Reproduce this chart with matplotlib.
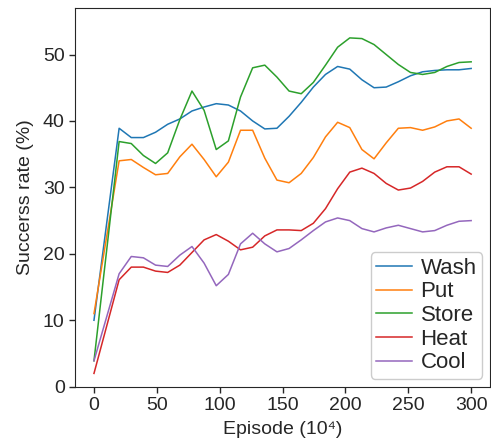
import matplotlib
matplotlib.use("Agg")
import matplotlib.pyplot as plt
import numpy as np

plt.rcParams['font.family'] = ['Liberation Sans', 'DejaVu Sans']

episode = np.concatenate([[0], np.linspace(20, 300, 30)])

wash = [10.0, 38.9, 37.5, 37.5, 38.3, 39.5, 40.3, 41.5, 42.1, 42.6, 42.4, 41.5, 40.0, 38.8, 38.9, 40.7,
        42.8, 45.1, 47.0, 48.2, 47.8, 46.2, 45.0, 45.1, 45.9, 46.8, 47.4, 47.6, 47.7, 47.7, 47.9]
put = [11.0, 34.0, 34.2, 33.0, 31.9, 32.1, 34.6, 36.5, 34.2, 31.6, 33.8, 38.6, 38.6, 34.4, 31.1, 30.7,
       32.1, 34.5, 37.6, 39.8, 39.0, 35.7, 34.3, 36.7, 38.9, 39.0, 38.6, 39.1, 40.0, 40.3, 38.9]
store = [3.9, 36.9, 36.6, 34.8, 33.6, 35.2, 40.2, 44.5, 41.6, 35.7, 37.0, 43.6, 48.0, 48.4, 46.6, 44.5,
         44.1, 45.8, 48.4, 51.1, 52.5, 52.4, 51.5, 50.0, 48.5, 47.3, 47.0, 47.3, 48.2, 48.8, 48.9]
heat = [2.0, 16.1, 18.0, 18.0, 17.4, 17.2, 18.3, 20.2, 22.1, 22.9, 21.9, 20.6, 21.0, 22.7, 23.6, 23.6,
        23.5, 24.6, 26.8, 29.8, 32.3, 32.9, 32.1, 30.6, 29.6, 29.9, 30.9, 32.3, 33.1, 33.1, 32.0]
cool = [3.9, 17.0, 19.6, 19.4, 18.3, 18.1, 19.8, 21.1, 18.6, 15.2, 16.9, 21.5, 23.1, 21.5, 20.3, 20.8,
        22.1, 23.5, 24.8, 25.4, 25.0, 23.8, 23.3, 23.9, 24.3, 23.8, 23.3, 23.5, 24.3, 24.9, 25.0]

series = [("Wash", wash, "#1f77b4"), ("Put", put, "#ff7f0e"), ("Store", store, "#2ca02c"),
          ("Heat", heat, "#d62728"), ("Cool", cool, "#9467bd")]

fig, ax = plt.subplots(figsize=(4.91, 4.45), dpi=100)
fig.subplots_adjust(left=0.153, right=0.998, top=0.982, bottom=0.131)

for name, vals, col in series:
    ax.plot(episode, vals, "-", color=col, lw=1.1, label=name)

ax.set_xlim(-15, 315)
ax.set_ylim(0, 57)
ax.set_xticks(np.arange(0, 301, 50))
ax.set_yticks(np.arange(0, 51, 10))
ax.tick_params(labelsize=14, colors="#262626", length=4, width=1)
for s in ax.spines.values():
    s.set_color("#262626")
ax.set_xlabel("Episode (10⁴)", fontsize=14, color="#262626", labelpad=5)
ax.set_ylabel("Succerss rate (%)", fontsize=14, color="#262626", labelpad=6)

leg = ax.legend(loc="lower right", fontsize=16, labelspacing=0.12, handlelength=1.6,
                borderaxespad=0.35, borderpad=0.25, handletextpad=0.4, fancybox=True, framealpha=1)
leg.get_frame().set_edgecolor("#cccccc")
for t in leg.get_texts():
    t.set_color("#262626")

fig.savefig("out.png", dpi=100)
